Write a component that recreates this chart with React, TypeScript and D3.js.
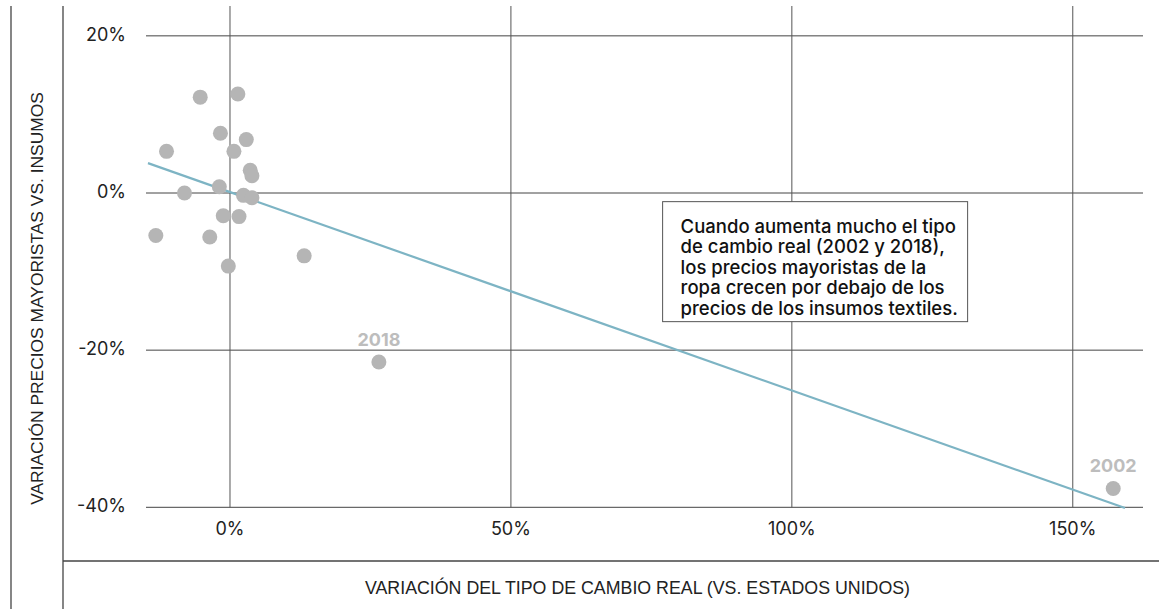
import React from "react";
import { scaleLinear, line } from "d3";

const width = 1159;
const height = 609;

// tipo de cambio real (%), precios mayoristas vs. insumos (%)
const xValues = [-5.3, 1.4, -1.7, 2.9, -11.3, 0.7, 3.6, 3.9, -1.9, -8.1, 2.4, 3.9, -1.2, 1.6, -13.2, -3.6, 13.2, -0.3, 26.5, 157.2];
const yValues = [12.2, 12.6, 7.6, 6.8, 5.3, 5.3, 2.9, 2.2, 0.8, 0.0, -0.3, -0.6, -2.9, -3.0, -5.4, -5.6, -8.0, -9.3, -21.5, -37.6];
const pointLabels = ["", "", "", "", "", "", "", "", "", "", "", "", "", "", "", "", "", "", "2018", "2002"];

const trendX = [-14.6, 159.3];
const trendY = [3.8, -40.1];

const xTicks = [0, 50, 100, 150];
const yTicks = [20, 0, -20, -40];

const yTitle = "VARIACIÓN PRECIOS MAYORISTAS VS. INSUMOS";
const xTitle = "VARIACIÓN DEL TIPO DE CAMBIO REAL (VS. ESTADOS UNIDOS)";
const note = [
  "Cuando aumenta mucho el tipo",
  "de cambio real (2002 y 2018),",
  "los precios mayoristas de la",
  "ropa crecen por debajo de los",
  "precios de los insumos textiles.",
];

const xScale = scaleLinear().domain([-14.95, 162.5]).range([146, 1143]);
const yScale = scaleLinear().domain([23.8, -40]).range([6, 507.3]);

const tickFont = "Inter, 'Noto Sans', sans-serif";
const titleFont = "'Liberation Sans', Arial, sans-serif";

export default function App() {
  const trendPath = line<number>()
    .x((d) => xScale(d))
    .y((d, i) => yScale(trendY[i]))(trendX);

  const [x0, x1] = xScale.range();
  const [yTop, yBottom] = yScale.range();
  const boxX = xScale(77);
  const boxY = yScale(-1.1);

  return (
    <svg
      width={width}
      height={height}
      style={{ position: "absolute", left: 0, top: 0, background: "#fff" }}
    >
      {/* frame */}
      <line x1={11} x2={11} y1={6} y2={height} stroke="#444" strokeWidth={1.3} />
      <line x1={63} x2={63} y1={6} y2={height} stroke="#444" strokeWidth={1.3} />
      <line x1={63} x2={width} y1={561} y2={561} stroke="#444" strokeWidth={1.3} />

      {/* grid */}
      {yTicks.map((t) => (
        <g key={`y${t}`}>
          <line x1={x0} x2={x1} y1={yScale(t)} y2={yScale(t)} stroke="#444" strokeWidth={1} />
          <text
            x={126}
            y={yScale(t)}
            dy="0.27em"
            textAnchor="end"
            fontFamily={tickFont}
            fontSize={18}
            fill="#222"
          >
            {t}%
          </text>
        </g>
      ))}
      {xTicks.map((t) => (
        <g key={`x${t}`}>
          <line x1={xScale(t)} x2={xScale(t)} y1={yTop} y2={yBottom} stroke="#555" strokeWidth={1} />
          <text
            x={xScale(t)}
            y={535}
            textAnchor="middle"
            fontFamily={tickFont}
            fontSize={18}
            fill="#222"
          >
            {t}%
          </text>
        </g>
      ))}

      {/* trend */}
      <path d={trendPath ?? ""} fill="none" stroke="#7db4c4" strokeWidth={2.2} />

      {/* points */}
      {xValues.map((v, i) => (
        <g key={i}>
          <circle cx={xScale(v)} cy={yScale(yValues[i])} r={7.5} fill="#b5b5b5" />
          {pointLabels[i] && (
            <text
              x={xScale(v)}
              y={yScale(yValues[i]) - 16}
              textAnchor="middle"
              fontFamily={tickFont}
              fontWeight={700}
              fontSize={18}
              fill="#bdbdbd"
            >
              {pointLabels[i]}
            </text>
          )}
        </g>
      ))}

      {/* annotation */}
      <rect x={boxX} y={boxY} width={305} height={120} fill="#fff" stroke="#555" strokeWidth={1} />
      {note.map((s, i) => (
        <text
          key={i}
          x={boxX + 18}
          y={boxY + 31 + i * 20.5}
          fontFamily={tickFont}
          fontWeight={500}
          fontSize={18.5}
          fill="#111"
        >
          {s}
        </text>
      ))}

      {/* axis titles */}
      <text
        transform={`translate(43, 298.5) rotate(-90)`}
        textAnchor="middle"
        fontFamily={titleFont}
        fontSize={17.4}
        fill="#222"
      >
        {yTitle}
      </text>
      <text
        x={637.5}
        y={594}
        textAnchor="middle"
        fontFamily={titleFont}
        fontSize={17.8}
        fill="#222"
      >
        {xTitle}
      </text>
    </svg>
  );
}
